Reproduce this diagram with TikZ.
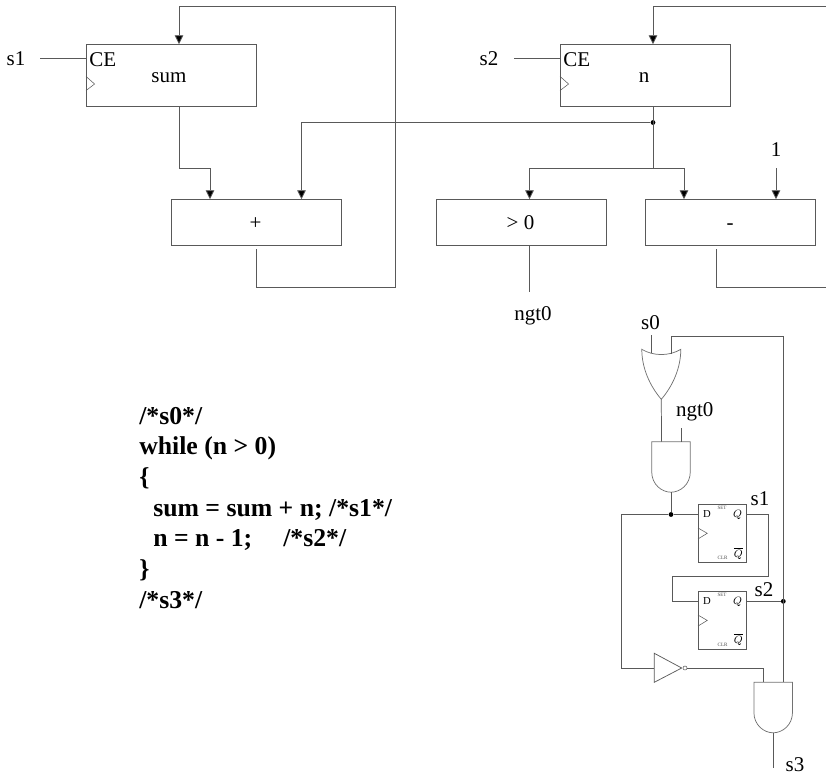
\documentclass[tikz,border=0pt]{standalone}
\usepackage{fontspec}
\setmainfont{Liberation Serif}
\usetikzlibrary{arrows.meta,calc}
\definecolor{wire}{gray}{0.35}
\tikzset{
  wirestyle/.style={draw=wire,line width=0.55pt},
  arrowwire/.style={wirestyle,-{Triangle[length=6.6pt,width=6.4pt,fill=black]}},
  unitbox/.style={draw=wire,line width=0.6pt,rectangle,minimum width=127.5pt,inner sep=0pt},
  regbox/.style={unitbox,minimum height=46.5pt},
  opbox/.style={unitbox,minimum height=34.5pt},
  lbl/.style={inner sep=0pt,anchor=base,font=\fontsize{15.75}{18}\selectfont},
  ce/.style={inner sep=0pt,anchor=base west,font=\fontsize{15.75}{18}\selectfont},
  code/.style={inner sep=0pt,anchor=base west,font=\fontsize{19.3}{23}\selectfont\bfseries},
  ffbox/.style={draw=wire,line width=0.6pt,rectangle,minimum width=36.2pt,inner sep=0pt},
  fftext/.style={inner sep=0pt,font=\fontsize{8}{10}\selectfont},
  fftiny/.style={inner sep=0pt,text=black!70,font=\fontsize{3.8}{4}\selectfont},
  joint/.style={circle,fill=black,inner sep=0pt,minimum size=3.6pt},
  andgate/.pic={
    \draw[wirestyle,draw=wire!85] (-19.3,0) -- (19.3,0) -- (19.3,30) .. controls (19.3,43) and (9,50.5) .. (0,50.5) .. controls (-9,50.5) and (-19.3,43) .. (-19.3,30) -- cycle;
    \coordinate (-out) at (0,50.5);
  },
  orgate/.pic={
    \draw[wirestyle,draw=wire!85] (-19.5,0) .. controls (-8,7) and (8,7) .. (19.5,0) .. controls (19.5,18) and (12,36) .. (0,50) .. controls (-12,36) and (-19.5,18) .. (-19.5,0) -- cycle;
    \coordinate (-out) at (0,50);
  }
}
\begin{document}
\begin{tikzpicture}[x=0.75pt,y=-0.75pt]
\useasboundingbox (0,0) rectangle (826,776);
% registers and operators
\node[regbox] (sum) at (171.5,75.5) {};
\node[lbl] (sumtext) at (169,82.7) {sum};
\node[ce] (sumce) at (89,66.5) {CE};
\node[regbox] (n) at (645.5,75.5) {};
\node[lbl] (ntext) at (644,82.7) {n};
\node[ce] (nce) at (563,66.5) {CE};
\node[opbox] (plus) at (256.5,222.5) {};
\node[lbl] (plustext) at (255.5,229) {+};
\node[opbox] (gt) at (521.5,222.5) {};
\node[lbl] (gttext) at (520.5,229) {> 0};
\node[opbox] (minus) at (730.5,222.5) {};
\node[lbl] (minustext) at (730,229) {-};
\draw[wire,line width=0.4pt] ($(sum.west)+(0,1)$) -- ++(8.5,7.5) -- ++(-8.5,6.5);
\draw[wire,line width=0.4pt] ($(n.west)+(0,1)$) -- ++(8.5,7.5) -- ++(-8.5,6.5);
% labels
\node[lbl] (ls1) at (16,65) {s1};
\node[lbl] (ls2) at (489,65) {s2};
\node[lbl] (one) at (776,156.5) {1};
\node[lbl] (ngtA) at (533,320.5) {ngt0};
\node[lbl] (s0) at (650.5,329) {s0};
\node[lbl] (ngtB) at (694.7,416.5) {ngt0};
\node[lbl] (ffs1) at (760,505) {s1};
\node[lbl] (ffs2) at (764,596.5) {s2};
\node[lbl] (s3) at (795,771) {s3};
% free ends and routing points
\coordinate (s1end) at (40,58.5);
\coordinate (s2end) at (514,58.5);
\coordinate (sumx) at (179,0);
\coordinate (nx) at (653,0);
\coordinate (plusA) at (210,0);
\coordinate (plusB) at (301.5,0);
\coordinate (gtx) at (529.5,0);
\coordinate (minA) at (684,0);
\coordinate (minB) at (776,0);
\coordinate (rightS) at (395.5,6.5);
\coordinate (rightN) at (826,6.5);
\coordinate (bot1) at (256.5,287.5);
\coordinate (bot2) at (716,287.5);
\coordinate (botR) at (826,287.5);
\coordinate (split) at (0,168);
\coordinate (oneend) at (776,168);
\coordinate (gtend) at (529.5,292);
\node[joint] (nj) at (653,122.5) {};
\coordinate (sj) at (653,168);
% connectors in the datapath
\draw[wirestyle] (s1end) -- (s1end -| sum.west);
\draw[wirestyle] (s2end) -- (s2end -| n.west);
\draw[arrowwire] (bot1 |- plus.south) ++(0,3.5) -- (bot1) -| (rightS) -| (sum.north -| sumx);
\draw[wirestyle] (bot2 |- minus.south) ++(0,3.5) -- (bot2) -- (botR);
\draw[arrowwire] (rightN) -| (n.north -| nx);
\draw[arrowwire] (sum.south -| sumx) |- (split -| plusA) -- (plus.north -| plusA);
\draw[arrowwire] (nj) -| (plus.north -| plusB);
\draw[wirestyle] (n.south -| nx) -- (sj);
\draw[arrowwire] (sj) -| (gt.north -| gtx);
\draw[arrowwire] (sj) -| (minus.north -| minA);
\draw[arrowwire] (oneend) -- (minus.north -| minB);
\draw[wirestyle] (gt.south -| gtx) -- (gtend);
% code
\node[code] (c1) at (139,424) {/*s0*/};
\node[code] (c2) at (139,454.7) {while (n > 0)};
\node[code] (c3) at (139,485.4) {\{};
\node[code] (c4) at (153,516.1) {sum = sum + n; /*s1*/};
\node[code] (c5) at (153,546.8) {n = n - 1;};
\node[code] (c5b) at (283,546.8) {/*s2*/};
\node[code] (c6) at (139,577.5) {\}};
\node[code] (c7) at (139,608.2) {/*s3*/};
% control gates
\pic (org) at (661.3,349.3) {orgate};
\pic (and1) at (671,441.7) {andgate};
\pic (and2) at (773.2,682.3) {andgate};
% flip-flops
\node[ffbox,minimum height=43.5pt] (ff1) at (722.6,533.3) {};
\node[ffbox,minimum height=43pt] (ff2) at (722.6,620.4) {};
\foreach \f/\ty in {ff1/504.3,ff2/591.7}{
  \node[fftext] (\f D) at (707,\ty+9.5) {D};
  \node[fftext] (\f Q) at (737.7,\ty+10.5) {$Q$};
  \node[fftiny] (\f S) at (722,\ty+3.5) {SET};
  \node[fftiny] (\f C) at ($(\f.south)+(0,-5)$) {CLR};
  \node[fftext] (\f N) at ($(\f.south east)+(-8.7,-9.5)$) {$\overline{Q}$};
  \draw[wire,line width=0.4pt] ($(\f.west)+(0,-5.3)$) -- ++(9.2,5.3) -- ++(-9.2,5.6);
}
% inverter
\coordinate (invtop) at (654.3,653.3);
\coordinate (invbot) at (654.3,682.3);
\coordinate (invtip) at (681.7,668);
\draw[wirestyle] (invtop) -- (invtip) -- (invbot) -- cycle;
\node[circle,draw=wire,line width=0.4pt,inner sep=0pt,minimum size=3pt] (bub) at (685,668) {};
% free ends and routing points in the control path
\coordinate (s0end) at (651.4,335);
\coordinate (s0in) at (651.4,352.5);
\coordinate (fbin) at (671,353.5);
\coordinate (fbtop) at (671,336);
\coordinate (rail) at (783.3,336);
\coordinate (ngtend) at (681,428);
\coordinate (ngtin) at (681,441.7);
\coordinate (a1in) at (661.5,441.7);
\node[joint] (j1) at (671,514.5) {};
\node[joint] (j2) at (783.3,601.3) {};
\coordinate (left) at (621,668.5);
\coordinate (q1r) at (768,514.5);
\coordinate (q1b) at (768,576);
\coordinate (d2l) at (672.3,576);
\coordinate (nand) at (763.5,668);
\coordinate (a2b) at (763.5,682.3);
\coordinate (a2r) at (783.3,682.3);
\coordinate (s3end) at (773.2,768);
\draw[wirestyle] (s0end) -- (s0in);
\draw[wirestyle] (fbin) -- (fbtop) -- (rail) -- (a2r);
\draw[wirestyle] (org-out) -- (a1in);
\draw[wirestyle] (ngtend) -- (ngtin);
\draw[wirestyle] (and1-out) -- (j1);
\draw[wirestyle] (j1) -- (j1 -| ff1.west);
\draw[wirestyle] (j1) -| (left) -- (left -| invtop);
\draw[wirestyle] (j1 -| ff1.east) -- (q1r) -- (q1b) -- (d2l) |- (j2 -| ff2.west);
\draw[wirestyle] (j2 -| ff2.east) -- (j2);
\draw[wirestyle] (bub.east) -- (nand) -- (a2b);
\draw[wirestyle] (and2-out) -- (s3end);
\end{tikzpicture}
\end{document}
